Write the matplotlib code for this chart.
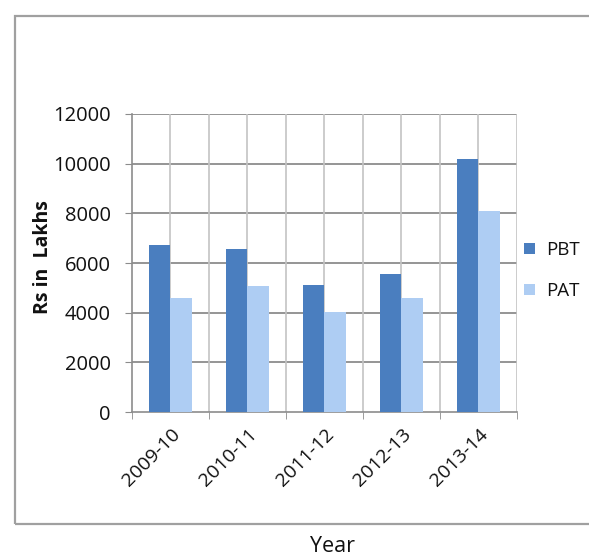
import matplotlib
matplotlib.use("Agg")
import matplotlib.pyplot as plt
import matplotlib.patches as patches
import matplotlib.transforms as mtransforms
import numpy as np

# data
years = ['2009-10', '2010-11', '2011-12', '2012-13', '2013-14']
pbt = [6710, 6580, 5110, 5560, 10190]
pat = [4600, 5090, 4010, 4600, 8090]
yticks = [0, 2000, 4000, 6000, 8000, 10000, 12000]

PBT_COLOR = '#4a7ebf'
PAT_COLOR = '#aecdf3'

plt.rcParams['font.family'] = ['Open Sans', 'DejaVu Sans']

fig = plt.figure(figsize=(5.89, 5.58), dpi=100)
ax = fig.add_axes([0.2236, 0.2616, 0.6537, 0.5341])

x = np.arange(len(years))
w = 0.28
ax.bar(x - w / 2, pbt, w, color=PBT_COLOR, label='PBT', zorder=3)
ax.bar(x + w / 2, pat, w, color=PAT_COLOR, label='PAT', zorder=3)

ax.set_xlim(-0.5, len(years) - 0.5)
ax.set_ylim(0, 12000)
ax.set_yticks(yticks)
ax.set_yticklabels([str(v) for v in yticks])

# category labels at centres, tick marks at category boundaries
ax.set_xticks(x)
ax.set_xticklabels(years, rotation=45, ha='right', va='center',
                   rotation_mode='anchor')
ax.set_xticks(np.arange(-0.5, len(years)), minor=True)
ax.tick_params(axis='x', which='major', length=0, pad=14, labelsize=14,
               labelcolor='#111111')
ax.tick_params(axis='x', which='minor', length=5, color='#8c8c8c',
               direction='out')
ax.tick_params(axis='y', length=5, color='#8c8c8c', pad=10, labelsize=14.5,
               labelcolor='#111111')

offset = mtransforms.ScaledTranslation(7 / 100, 0, fig.dpi_scale_trans)
for lab in ax.get_xticklabels():
    lab.set_transform(lab.get_transform() + offset)

# gridlines: darker horizontal, lighter vertical at every half category
for v in yticks[1:]:
    ax.axhline(v, color='#8c8c8c', lw=1.3, zorder=1)
for xv in np.arange(0, len(years), 0.5):
    ax.axvline(xv, color='#c4c4c4', lw=1.2, zorder=1)

for s in ['top', 'right']:
    ax.spines[s].set_visible(False)
for s in ['left', 'bottom']:
    ax.spines[s].set_color('#8c8c8c')
    ax.spines[s].set_linewidth(1.2)

fig.text(43 / 589, 0.540, 'Rs in  Lakhs', rotation=90, ha='center',
         va='center', fontsize=14, fontweight='bold', color='#111111')
fig.text(0.565, 0.020, 'Year', ha='center', va='center', fontsize=15.5,
         color='#111111')

leg = fig.legend(loc='center left', bbox_to_anchor=(0.89, 0.515),
                 frameon=False, fontsize=13.5, handlelength=0.55,
                 handleheight=0.55, handletextpad=0.6, labelspacing=1.25,
                 borderaxespad=0, borderpad=0)
for t in leg.get_texts():
    t.set_color('#111111')

# outer chart border (open on the right, as in the reference)
border = patches.Rectangle((15 / 589, 1 - 524 / 558), 1.2, (524 - 16) / 558,
                           transform=fig.transFigure, fill=False,
                           edgecolor='#a0a0a0', lw=1.6, clip_on=False)
fig.patches.append(border)

fig.savefig('out.png', dpi=100)
